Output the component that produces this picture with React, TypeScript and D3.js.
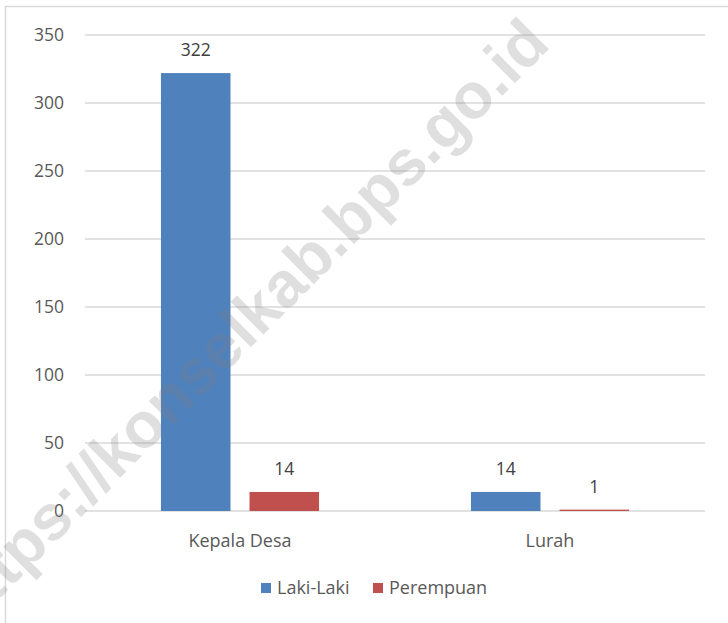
import React from "react";
import * as d3 from "d3";

const categories = ["Kepala Desa", "Lurah"];
const seriesNames = ["Laki-Laki", "Perempuan"];
const lakiLaki = [322, 14];
const perempuan = [14, 1];
const yTicks = [0, 50, 100, 150, 200, 250, 300, 350];
const colors = ["#4F81BD", "#C0504D"];
const watermark = "https://konselkab.bps.go.id";

const W = 728;
const H = 623;
const FONT = "'Open Sans', 'Noto Sans', sans-serif";

export default function App() {
  const left = 85, right = 705, top = 35, bottom = 511;
  const x0 = d3.scaleBand<string>().domain(categories).range([left, right]).padding(0);
  const bw = x0.bandwidth();
  const x1 = d3.scaleBand<string>().domain(seriesNames).range([bw * 0.245, bw * 0.755]).paddingInner(0.215);
  const y = d3.scaleLinear().domain([0, 350]).range([bottom, top]);
  const values = [lakiLaki, perempuan];

  return (
    <svg width={W} height={H} style={{ position: "absolute", left: 0, top: 0 }} fontFamily={FONT}>
      <rect x={0} y={0} width={W} height={H} fill="#fff" />
      <rect x={5.5} y={6.5} width={W + 10} height={H + 10} fill="none" stroke="#d9d9d9" strokeWidth={1.5} />
      {yTicks.map((t) => (
        <g key={t}>
          <line x1={left} x2={right} y1={y(t)} y2={y(t)} stroke="#d9d9d9" strokeWidth={1.5} />
          <text x={64} y={y(t)} dy="0.35em" textAnchor="end" fontSize={17.5} fill="#595959">{t}</text>
        </g>
      ))}
      {categories.map((c, ci) => (
        <g key={c}>
          {seriesNames.map((s, si) => {
            const v = values[si][ci];
            const bx = (x0(c) as number) + (x1(s) as number);
            return (
              <g key={s}>
                <rect x={bx} y={y(v)} width={x1.bandwidth()} height={y(0) - y(v)} fill={colors[si]} />
                <text x={bx + x1.bandwidth() / 2} y={y(v) - 17} textAnchor="middle" fontSize={17.5} fill="#404040">{v}</text>
              </g>
            );
          })}
          <text x={(x0(c) as number) + bw / 2} y={547} textAnchor="middle" fontSize={18} fill="#595959">{c}</text>
        </g>
      ))}
      <g>
        <rect x={261} y={583} width={10} height={10} fill={colors[0]} />
        <text x={277} y={594} fontSize={18} fill="#595959">{seriesNames[0]}</text>
        <rect x={373} y={583} width={10} height={10} fill={colors[1]} />
        <text x={389} y={594} fontSize={18} fill="#595959">{seriesNames[1]}</text>
      </g>
      <text
        transform="translate(552,46) rotate(-45)"
        textAnchor="end"
        fontFamily="'Liberation Sans', Arial, sans-serif"
        fontWeight="bold"
        fontSize={64}
        fill="#808080"
        fillOpacity={0.25}
      >
        {watermark}
      </text>
    </svg>
  );
}
